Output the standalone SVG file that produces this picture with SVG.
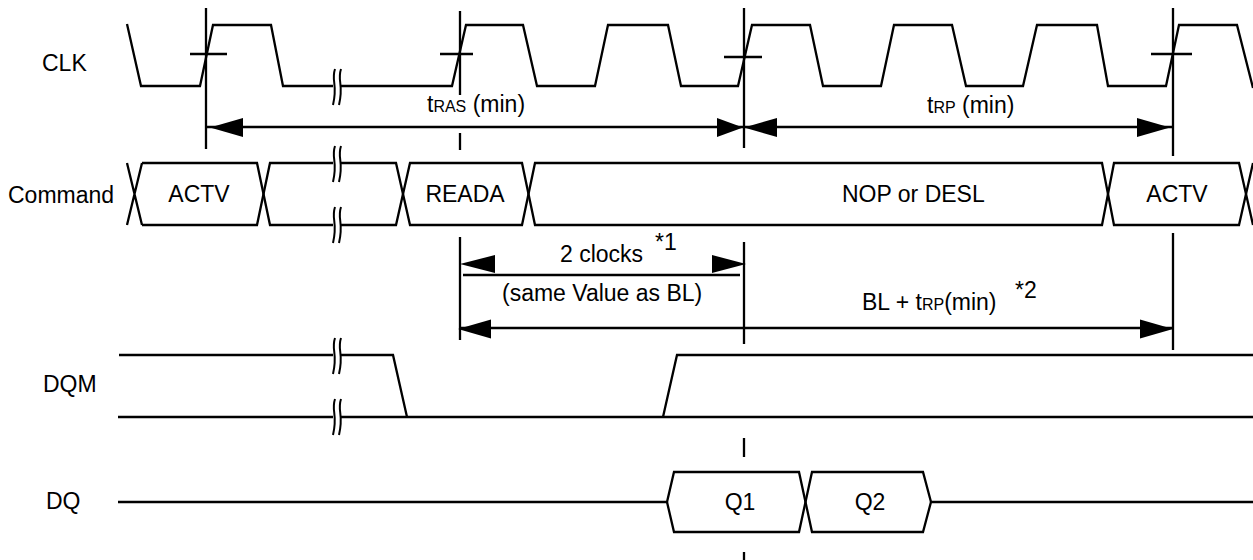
<svg xmlns="http://www.w3.org/2000/svg" width="1253" height="560" viewBox="0 0 1253 560">
<style>
.w{fill:none;stroke:#000;stroke-width:2.3;stroke-linejoin:miter}
.g{fill:none;stroke:#000;stroke-width:2.3}
.brk{fill:none;stroke:#000;stroke-width:2}
.gap{fill:#fff;stroke:none}
.t{font-family:"Liberation Sans",Arial,sans-serif;font-size:23px;fill:#000}
.s{font-size:16px}
.ah{fill:#000;stroke:none}
</style>
<defs>
<path id="ar" d="M0,0 L-33,-9.5 L-33,9.5 Z"/>
<g id="brk">
<rect class="gap" x="-4" y="-5" width="8" height="10"/>
<path class="brk" d="M-2,-18 C-6,-6 1,-3 -4,18"/>
<path class="brk" d="M4,-18 C0,-6 7,-3 2,18"/>
</g>
</defs>
<rect width="1253" height="560" fill="#fff"/>

<g id="labels">
<text class="t" x="42" y="71">CLK</text>
<text class="t" x="8" y="203">Command</text>
<text class="t" x="43" y="392">DQM</text>
<text class="t" x="46" y="509">DQ</text>
</g>

<g id="clk">
<path class="w" d="M127,24 L141,86 L200,86 L213,25 L271,25 L283,86 L452,86 L466,25 L523,25 L537,86 L595,86 L608,25 L668,25 L681,86 L738,86 L752,25 L810,25 L823,86 L881,86 L894,25 L952,25 L966,86 L1023,86 L1037,25 L1097,25 L1108,86 L1166,86 L1179,25 L1237,25 L1253,88"/>
<use href="#brk" x="337" y="87"/>
<path class="g" d="M190,54 H227 M440,54 H473 M724,57 H762 M1151,54 H1192"/>
</g>

<g id="command">
<path class="w" d="M127,163 L142,225 M142,163 L127,225"/>
<path class="w" d="M142,163 H257 L270,225 H396 L410,163 H522 L535,225 H1102 L1114,163 H1239 L1253,225"/>
<path class="w" d="M142,225 H257 L270,163 H396 L410,225 H522 L535,163 H1102 L1114,225 H1239 L1253,163"/>
<use href="#brk" x="337" y="164"/>
<use href="#brk" x="337" y="225"/>
<text class="t" x="199" y="202" text-anchor="middle">ACTV</text>
<text class="t" x="465" y="202" text-anchor="middle">READA</text>
<text class="t" x="842" y="202">NOP or DESL</text>
<text class="t" x="1177" y="202" text-anchor="middle">ACTV</text>
</g>

<g id="dqm">
<path class="w" d="M119,355 H393 L407,417"/>
<path class="w" d="M118,417 H1253"/>
<path class="w" d="M663,417 L677,355 H1253"/>
<use href="#brk" x="337" y="356"/>
<use href="#brk" x="337" y="417"/>
</g>

<g id="dq">
<path class="w" d="M118,502 H667 L674,472 H799 L812,532 H923 L931,502 H1253"/>
<path class="w" d="M667,502 L674,532 H799 L812,472 H923 L931,502"/>
<text class="t" x="740" y="510" text-anchor="middle">Q1</text>
<text class="t" x="870" y="510" text-anchor="middle">Q2</text>
</g>

<g id="connectors">
<path class="g" d="M206,8 V149 M460,11 V95 M460,133 V150 M460,237 V340 M744,8 V148 M744,242 V344 M744,438 V457 M744,552 V560 M1173,8 V156 M1173,233 V350"/>
<path class="g" d="M206,127 H1173 M463,275 H740 M460,328 H1173"/>
<use class="ah" href="#ar" transform="translate(210,127.5) scale(-1,1)"/>
<polygon class="ah" points="743,127.5 717,118 717,137"/>
<use class="ah" href="#ar" transform="translate(744,127.5) scale(-1,1)"/>
<use class="ah" href="#ar" transform="translate(1170,127.5)"/>
<polygon class="ah" points="460,264 495,255 495,273"/>
<polygon class="ah" points="746,264 712,255 712,273"/>
<use class="ah" href="#ar" transform="translate(458,329) scale(-1,1)"/>
<use class="ah" href="#ar" transform="translate(1173,329)"/>
<text class="t" x="427" y="112">t<tspan class="s">RAS</tspan> (min)</text>
<text class="t" x="927" y="113">t<tspan class="s">RP</tspan> (min)</text>
<text class="t" x="560" y="262">2 clocks</text>
<text class="t" x="655" y="250">*1</text>
<text class="t" x="502" y="301">(same Value as BL)</text>
<text class="t" x="862" y="310">BL + t<tspan class="s">RP</tspan>(min)</text>
<text class="t" x="1015" y="298">*2</text>
</g>
</svg>
